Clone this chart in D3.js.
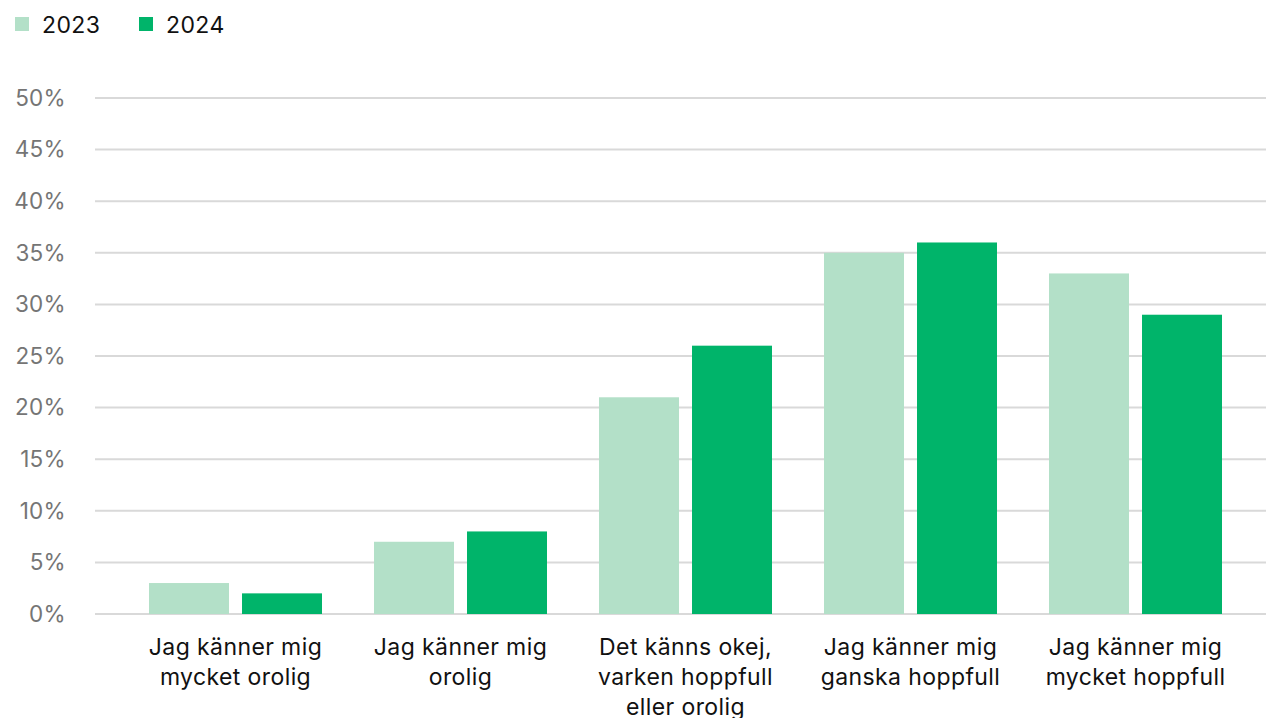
<!DOCTYPE html>
<html>
<head>
  <script src="https://d3js.org/d3.v7.min.js"></script>
  <style>
    body { margin: 0; background: #fff; font-family: Inter, "Noto Sans", sans-serif; }
    .grid line { stroke: #d9d9d9; stroke-width: 2px; }
    .ytick { fill: #757575; font-size: 22.5px; letter-spacing: 0.3px; }
    .cat { fill: #111; font-size: 23px; letter-spacing: 0.4px; }
    .legend text { fill: #111; font-size: 23px; letter-spacing: 0.4px; }
  </style>
</head>
<body>
  <svg width="1266" height="718"></svg>
  <script>
    const categories = [
      ["Jag känner mig", "mycket orolig"],
      ["Jag känner mig", "orolig"],
      ["Det känns okej,", "varken hoppfull", "eller orolig"],
      ["Jag känner mig", "ganska hoppfull"],
      ["Jag känner mig", "mycket hoppfull"]
    ];
    const series = ["2023", "2024"];
    const values2023 = [3, 7, 21, 35, 33];
    const values2024 = [2, 8, 26, 36, 29];
    const yTicks = [0, 5, 10, 15, 20, 25, 30, 35, 40, 45, 50];
    const colors = ["#b3e0c8", "#00b46a"];

    const svg = d3.select("svg");
    const width = 1266;

    const x = d3.scaleBand()
      .domain(d3.range(categories.length))
      .range([123, 1248]);

    const xSub = d3.scaleBand()
      .domain(series)
      .range([26, 199])
      .paddingInner(0.14);

    const y = d3.scaleLinear().domain([0, 50]).range([614, 98]);

    // gridlines
    const grid = svg.append("g").attr("class", "grid");
    grid.selectAll("line")
      .data(yTicks)
      .enter().append("line")
      .attr("x1", 95).attr("x2", width)
      .attr("y1", d => y(d)).attr("y2", d => y(d));

    svg.append("g").selectAll("text")
      .data(yTicks)
      .enter().append("text")
      .attr("class", "ytick")
      .attr("x", 66)
      .attr("y", d => y(d))
      .attr("dy", "0.35em")
      .attr("text-anchor", "end")
      .text(d => d + "%");

    const data = series.map((s, i) => ({
      name: s,
      values: i === 0 ? values2023 : values2024
    }));

    data.forEach((s, si) => {
      svg.append("g").selectAll("rect")
        .data(s.values)
        .enter().append("rect")
        .attr("x", (d, i) => x(i) + xSub(s.name))
        .attr("width", xSub.bandwidth())
        .attr("y", d => y(d))
        .attr("height", d => y(0) - y(d))
        .attr("fill", colors[si]);
    });

    // category labels
    const cats = svg.append("g");
    categories.forEach((lines, i) => {
      const t = cats.append("text")
        .attr("class", "cat")
        .attr("text-anchor", "middle")
        .attr("x", x(i) + x.bandwidth() / 2)
        .attr("y", 655);
      lines.forEach((l, j) => {
        t.append("tspan")
          .attr("x", x(i) + x.bandwidth() / 2)
          .attr("dy", j === 0 ? 0 : 30)
          .text(l);
      });
    });

    // legend
    const legendX = [15, 139];
    const legend = svg.append("g").attr("class", "legend");
    series.forEach((s, i) => {
      legend.append("rect")
        .attr("x", legendX[i]).attr("y", 17)
        .attr("width", 14).attr("height", 14)
        .attr("fill", colors[i]);
      legend.append("text")
        .attr("x", legendX[i] + 27).attr("y", 25)
        .attr("dy", "0.35em")
        .text(s);
    });
  </script>
</body>
</html>
